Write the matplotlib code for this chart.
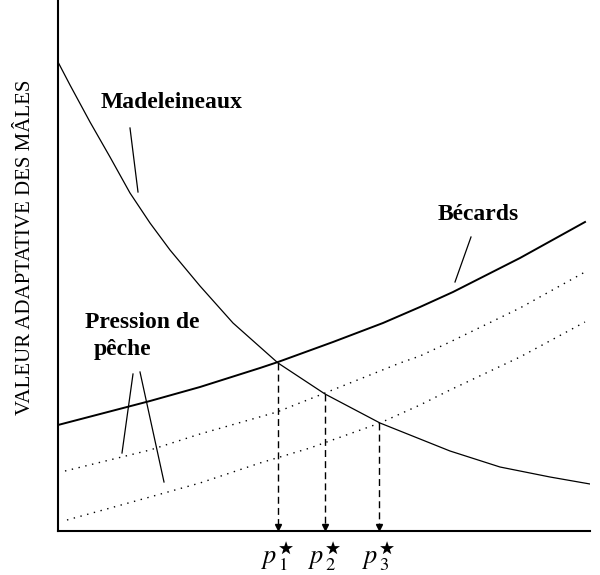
import matplotlib
matplotlib.use("Agg")
import matplotlib.pyplot as plt

plt.rcParams["font.family"] = ["Liberation Serif", "DejaVu Serif"]
plt.rcParams["mathtext.fontset"] = "stix"

# valeurs (unités arbitraires)
mad_x = [0, 12, 32, 52, 72, 92, 112, 132, 142, 175, 220, 267, 322, 362, 392, 442, 492, 532]
mad_y = [469, 446, 409, 374, 338, 308, 281, 257, 245, 208, 168, 137, 108, 92, 80, 64, 54, 47]

bec_x = [0, 92, 142, 202, 220, 275, 325, 362, 395, 462, 527]
bec_y = [106, 130, 144, 163, 169, 189, 208, 224, 239, 273, 309]

p2_x = [7, 92, 142, 219, 267, 342, 362, 392, 462, 527]
p2_y = [60, 81, 97, 119, 138, 168, 175, 189, 223, 259]

p3_x = [9, 92, 142, 202, 252, 322, 362, 392, 462, 527]
p3_y = [11, 34, 48, 68, 83, 108, 126, 141, 174, 209]

eq_x = [220, 267, 321]
eq_y = [168, 137, 108]
eq_labels = [r"$p_{\,1}^{\bigstar}$", r"$p_{\,2}^{\bigstar}$", r"$p_{\,3}^{\bigstar}$"]

fig = plt.figure(figsize=(6, 5.75), dpi=100)
ax = fig.add_axes([58 / 600, 44 / 575, 532 / 600, 531 / 575])

ax.plot(mad_x, mad_y, color="black", lw=0.9)
ax.plot(bec_x, bec_y, color="black", lw=1.4)
ax.plot(p2_x, p2_y, color="black", lw=1.0, linestyle=(0, (1, 4)))
ax.plot(p3_x, p3_y, color="black", lw=1.0, linestyle=(0, (1, 4)))

for x, y, lab in zip(eq_x, eq_y, eq_labels):
    ax.plot([x, x], [y, 4], color="black", lw=1.0, linestyle=(0, (5, 3)))
    ax.plot([x], [4], marker="v", color="black", markersize=4)
    ax.text(x, -25, lab, fontsize=19, ha="center", va="center", clip_on=False)

# étiquettes et traits de renvoi
ax.text(114, 428, "Madeleineaux", fontsize=17, fontweight="bold", ha="center", va="center")
ax.plot([72, 80], [403, 339], color="black", lw=0.9)
ax.text(420, 316, "Bécards", fontsize=17, fontweight="bold", ha="center", va="center")
ax.plot([413, 397], [294, 249], color="black", lw=0.9)
ax.text(84, 209, "Pression de", fontsize=17, fontweight="bold", ha="center", va="center")
ax.text(64, 181, "pêche", fontsize=17, fontweight="bold", ha="center", va="center")
ax.plot([75, 64], [157, 78], color="black", lw=0.9)
ax.plot([82, 106], [159, 49], color="black", lw=0.9)

ax.set_xlim(0, 532)
ax.set_ylim(0, 531)
ax.set_xticks([])
ax.set_yticks([])
for s in ("top", "right"):
    ax.spines[s].set_visible(False)
for s in ("left", "bottom"):
    ax.spines[s].set_linewidth(1.5)

fig.text(26 / 600, 1 - 247 / 575, "VALEUR ADAPTATIVE DES MÂLES", rotation=90,
         fontsize=15, ha="center", va="center")

fig.savefig("out.png", dpi=100)
